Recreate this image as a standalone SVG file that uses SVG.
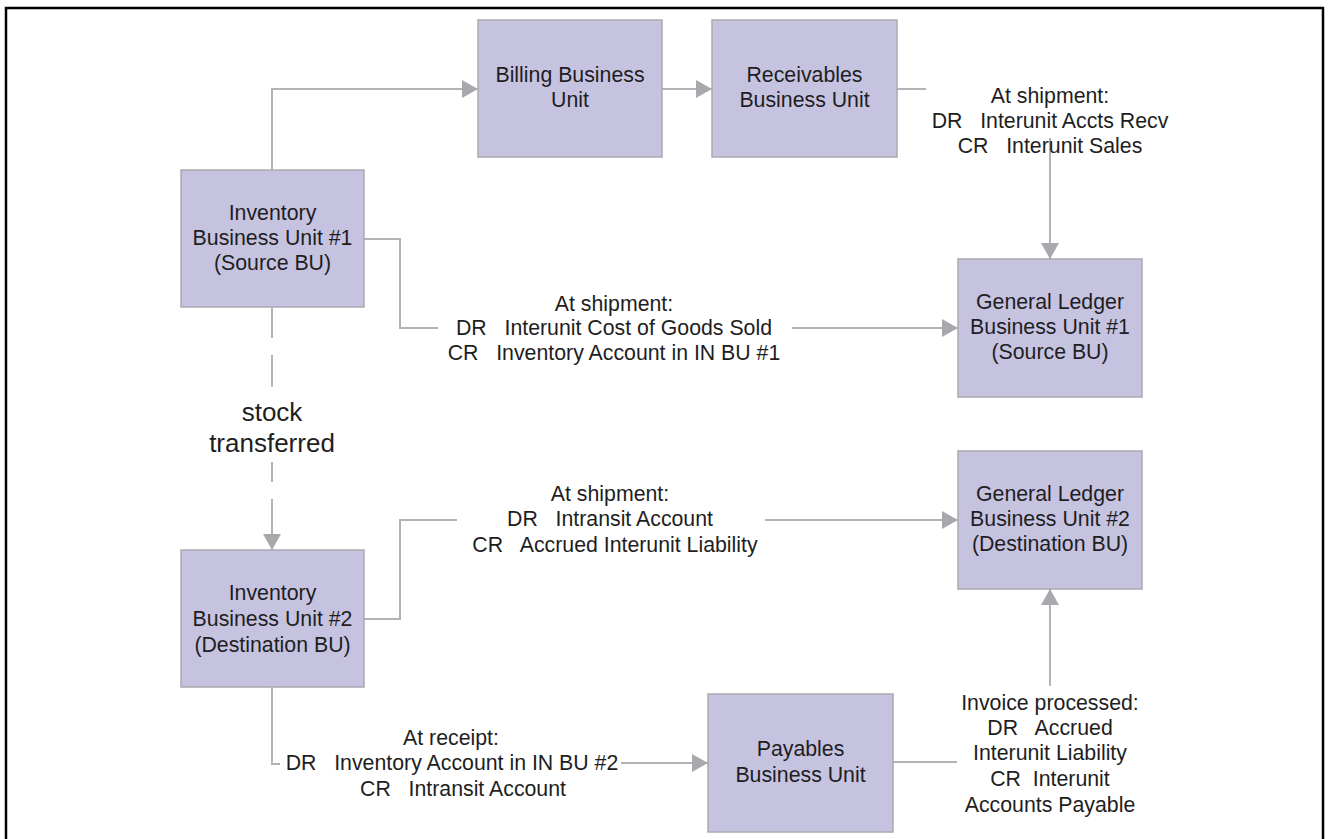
<svg xmlns="http://www.w3.org/2000/svg" width="1329" height="839" viewBox="0 0 1329 839">
  <defs>
    <style>
      .box { fill: #c6c3e1; stroke: #a9a9b0; stroke-width: 1.5; }
      .lbl { font-family: "Liberation Sans", Arial, sans-serif; font-size: 21.3px; fill: #1e1e1e; text-anchor: middle; white-space: pre; }
      .big { font-size: 26px; }
      .wire { fill: none; stroke: #b3b3b6; stroke-width: 2; }
      .frame { fill: none; stroke: #000; stroke-width: 2.5; }
    </style>
    <marker id="arrow" viewBox="0 0 16 18" refX="16" refY="9" markerWidth="16" markerHeight="18" markerUnits="userSpaceOnUse" orient="auto">
      <path d="M0,0 L16,9 L0,18 Z" fill="#a9a9ad"/>
    </marker>
  </defs>

  <rect class="frame" x="6" y="8" width="1317" height="850"/>

  <!-- connectors -->
  <g id="connectors">
    <path class="wire" d="M272,170 V89 H478" marker-end="url(#arrow)"/>
    <path class="wire" d="M661,89 H712" marker-end="url(#arrow)"/>
    <path class="wire" d="M897,89 H926"/>
    <path class="wire" d="M1050,138 V259" marker-end="url(#arrow)"/>
    <path class="wire" d="M364,239 H400 V328 H438"/>
    <path class="wire" d="M792,328 H958" marker-end="url(#arrow)"/>
    <!-- dashed stock transfer line, broken around its label -->
    <path class="wire" d="M272,307 V338 M272,355 V387 M272,462 V482"/>
    <path class="wire" d="M272,499 V550" marker-end="url(#arrow)"/>
    <path class="wire" d="M364,619 H400 V520 H457"/>
    <path class="wire" d="M765,520 H958" marker-end="url(#arrow)"/>
    <path class="wire" d="M272,687 V764 H280"/>
    <path class="wire" d="M621,763 H708" marker-end="url(#arrow)"/>
    <path class="wire" d="M893,762 H957"/>
    <path class="wire" d="M1050,686 V589" marker-end="url(#arrow)"/>
  </g>

  <!-- connector labels -->
  <g id="label-receivables">
    <text class="lbl" x="1050" y="103">At shipment:</text>
    <text class="lbl" x="1050" y="128">DR   Interunit Accts Recv</text>
    <text class="lbl" x="1050" y="153">CR   Interunit Sales</text>
  </g>
  <g id="label-inv1">
    <text class="lbl" x="614" y="311">At shipment:</text>
    <text class="lbl" x="614" y="335">DR   Interunit Cost of Goods Sold</text>
    <text class="lbl" x="614" y="360">CR   Inventory Account in IN BU #1</text>
  </g>
  <g id="label-transfer">
    <text class="lbl big" x="272" y="421">stock</text>
    <text class="lbl big" x="272" y="452">transferred</text>
  </g>
  <g id="label-inv2">
    <text class="lbl" x="610" y="501">At shipment:</text>
    <text class="lbl" x="610" y="526">DR   Intransit Account</text>
    <text class="lbl" x="615" y="552">CR   Accrued Interunit Liability</text>
  </g>
  <g id="label-receipt">
    <text class="lbl" x="451" y="745">At receipt:</text>
    <text class="lbl" x="452" y="770">DR   Inventory Account in IN BU #2</text>
    <text class="lbl" x="463" y="796">CR   Intransit Account</text>
  </g>
  <g id="label-invoice">
    <text class="lbl" x="1050" y="710">Invoice processed:</text>
    <text class="lbl" x="1050" y="735">DR   Accrued</text>
    <text class="lbl" x="1050" y="760">Interunit Liability</text>
    <text class="lbl" x="1050" y="786">CR  Interunit</text>
    <text class="lbl" x="1050" y="812">Accounts Payable</text>
  </g>

  <!-- nodes -->
  <g id="node-billing">
    <rect class="box" x="478" y="20" width="184" height="137"/>
    <text class="lbl" x="570" y="82">Billing Business</text>
    <text class="lbl" x="570" y="107">Unit</text>
  </g>
  <g id="node-receivables">
    <rect class="box" x="712" y="20" width="185" height="137"/>
    <text class="lbl" x="804.5" y="82">Receivables</text>
    <text class="lbl" x="804.5" y="107">Business Unit</text>
  </g>
  <g id="node-inventory-1">
    <rect class="box" x="181" y="170" width="183" height="137"/>
    <text class="lbl" x="272.5" y="220">Inventory</text>
    <text class="lbl" x="272.5" y="245">Business Unit #1</text>
    <text class="lbl" x="272.5" y="270">(Source BU)</text>
  </g>
  <g id="node-gl-1">
    <rect class="box" x="958" y="259" width="184" height="138"/>
    <text class="lbl" x="1050" y="309">General Ledger</text>
    <text class="lbl" x="1050" y="334">Business Unit #1</text>
    <text class="lbl" x="1050" y="359">(Source BU)</text>
  </g>
  <g id="node-gl-2">
    <rect class="box" x="958" y="451" width="184" height="138"/>
    <text class="lbl" x="1050" y="501">General Ledger</text>
    <text class="lbl" x="1050" y="526">Business Unit #2</text>
    <text class="lbl" x="1050" y="551">(Destination BU)</text>
  </g>
  <g id="node-inventory-2">
    <rect class="box" x="181" y="550" width="183" height="137"/>
    <text class="lbl" x="272.5" y="600">Inventory</text>
    <text class="lbl" x="272.5" y="626">Business Unit #2</text>
    <text class="lbl" x="272.5" y="652">(Destination BU)</text>
  </g>
  <g id="node-payables">
    <rect class="box" x="708" y="694" width="185" height="138"/>
    <text class="lbl" x="800.5" y="756">Payables</text>
    <text class="lbl" x="800.5" y="782">Business Unit</text>
  </g>
</svg>
